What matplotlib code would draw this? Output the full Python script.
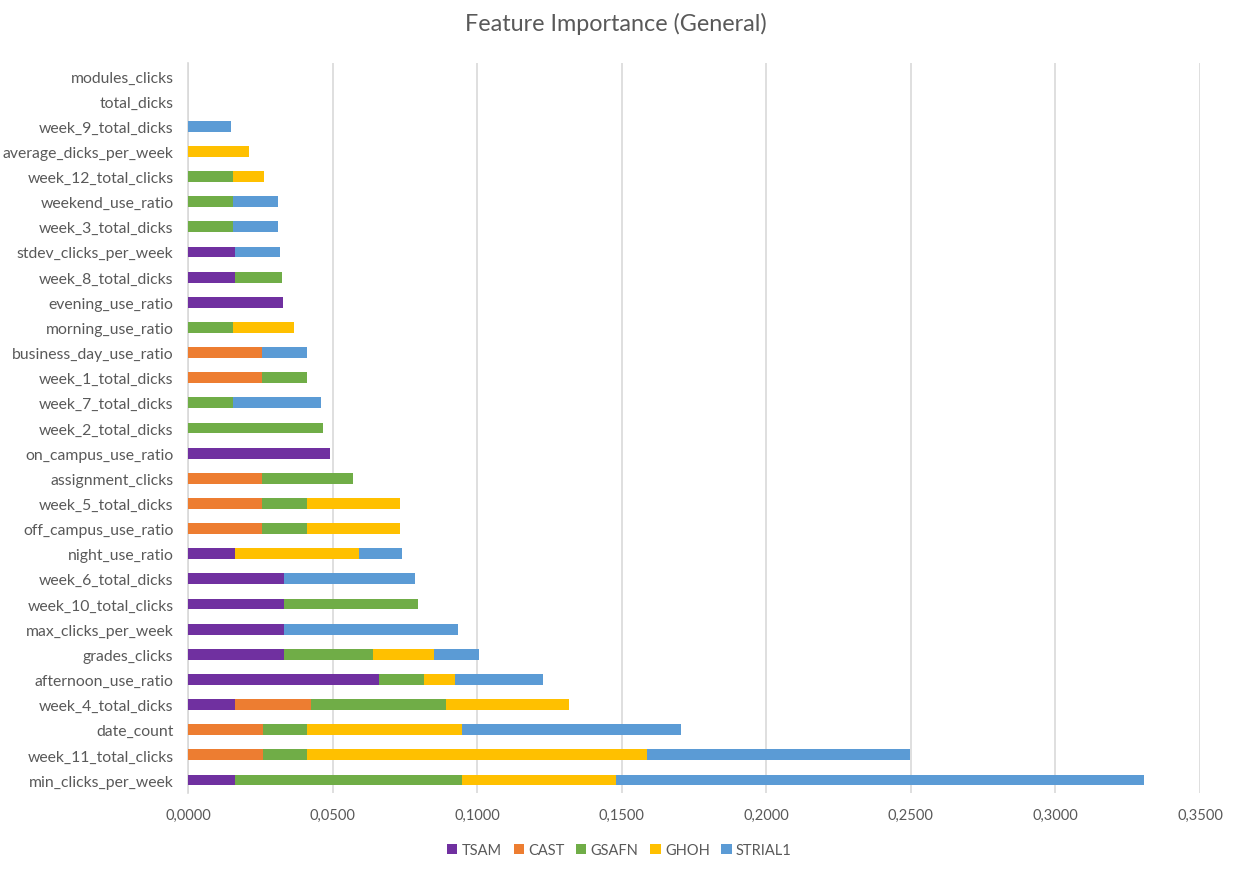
import numpy as np
import matplotlib.pyplot as plt
from matplotlib.ticker import FuncFormatter

plt.rcParams['font.family'] = ['Lato', 'DejaVu Sans']

# categorias de cima para baixo
features = ['modules_clicks', 'total_dicks', 'week_9_total_dicks', 'average_dicks_per_week',
            'week_12_total_clicks', 'weekend_use_ratio', 'week_3_total_dicks', 'stdev_clicks_per_week',
            'week_8_total_dicks', 'evening_use_ratio', 'morning_use_ratio', 'business_day_use_ratio',
            'week_1_total_dicks', 'week_7_total_dicks', 'week_2_total_dicks', 'on_campus_use_ratio',
            'assignment_clicks', 'week_5_total_dicks', 'off_campus_use_ratio', 'night_use_ratio',
            'week_6_total_dicks', 'week_10_total_clicks', 'max_clicks_per_week', 'grades_clicks',
            'afternoon_use_ratio', 'week_4_total_dicks', 'date_count', 'week_11_total_clicks',
            'min_clicks_per_week']

tsam = [0, 0, 0, 0, 0, 0, 0, 0.0163, 0.0163, 0.0330, 0, 0, 0, 0, 0, 0.0491, 0, 0, 0, 0.0163,
        0.0331, 0.0331, 0.0331, 0.0331, 0.0660, 0.0164, 0, 0, 0.0164]
cast = [0, 0, 0, 0, 0, 0, 0, 0, 0, 0, 0, 0.0256, 0.0256, 0, 0, 0, 0.0256, 0.0256, 0.0256, 0,
        0, 0, 0, 0, 0, 0.0261, 0.0258, 0.0258, 0]
gsafn = [0, 0, 0, 0, 0.0155, 0.0155, 0.0155, 0, 0.0162, 0, 0.0155, 0, 0.0155, 0.0155, 0.0466, 0,
         0.0316, 0.0155, 0.0155, 0, 0, 0.0466, 0, 0.0310, 0.0156, 0.0466, 0.0154, 0.0154, 0.0782]
ghoh = [0, 0, 0, 0.0211, 0.0107, 0, 0, 0, 0, 0, 0.0212, 0, 0, 0, 0, 0, 0, 0.0323, 0.0323, 0.0428,
        0, 0, 0, 0.0211, 0.0107, 0.0428, 0.0534, 0.1175, 0.0534]
strial1 = [0, 0, 0.0149, 0, 0, 0.0156, 0.0156, 0.0155, 0, 0, 0, 0.0155, 0, 0.0305, 0, 0, 0, 0, 0,
           0.0149, 0.0455, 0, 0.0602, 0.0156, 0.0304, 0, 0.0758, 0.0909, 0.1825]

series = ['TSAM', 'CAST', 'GSAFN', 'GHOH', 'STRIAL1']
valores = [tsam, cast, gsafn, ghoh, strial1]
cores = ['#7030A0', '#ED7D31', '#70AD47', '#FFC000', '#5B9BD5']

texto = '#595959'

fig = plt.figure(figsize=(12.39, 8.70), dpi=100)
ax = fig.add_axes([188 / 1239, 1 - 793.6 / 870, (1200 - 188) / 1239, (793.6 - 64.4) / 870])

y = np.arange(len(features))
base = np.zeros(len(features))
for nome, v, c in zip(series, valores, cores):
    v = np.array(v)
    ax.barh(y, v, left=base, height=0.43, color=c, label=nome, zorder=3)
    base += v

ax.set_ylim(len(features) - 0.5, -0.5)
ax.set_yticks(y)
ax.set_yticklabels(features)
ax.set_xlim(0, 0.35)
ax.set_xticks(np.arange(0, 0.351, 0.05))
ax.xaxis.set_major_formatter(FuncFormatter(lambda v, p: f'{v:.4f}'.replace('.', ',')))
ax.grid(axis='x', color='#D9D9D9', linewidth=1.2, zorder=0)
ax.tick_params(length=0, colors=texto)
ax.tick_params(axis='y', labelsize=11.3, pad=10.5)
ax.tick_params(axis='x', labelsize=10.5, pad=11)
for s in ['top', 'right', 'bottom']:
    ax.spines[s].set_visible(False)
ax.spines['left'].set_color('#D9D9D9')
ax.spines['left'].set_linewidth(1.2)

fig.suptitle('Feature Importance (General)', x=0.497, y=0.985, fontsize=16.8, color=texto)

fig.legend(loc='center', bbox_to_anchor=(0.5, 1 - 851 / 870), ncol=5, frameon=False,
           fontsize=10.5, labelcolor=texto, handlelength=0.7, handleheight=0.7,
           handletextpad=0.3, columnspacing=0.8)

fig.savefig('out.png', dpi=100)
